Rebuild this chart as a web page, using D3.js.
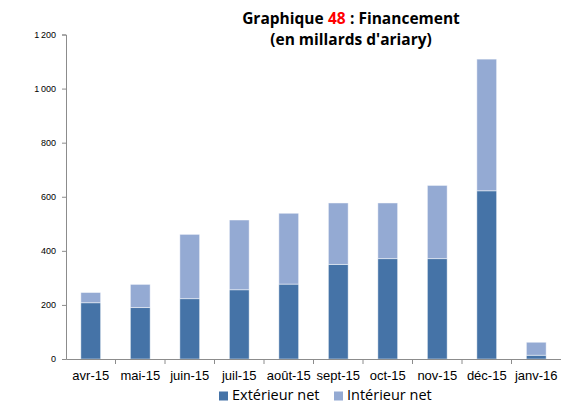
<!DOCTYPE html>
<html>
<head>
<meta charset="utf-8">
<script src="https://cdn.jsdelivr.net/npm/d3@7"></script>
<style>
  html, body { margin: 0; padding: 0; background: #fff; }
  svg { display: block; font-family: "Open Sans", Lato, sans-serif; }
</style>
</head>
<body>
<svg id="chart" width="561" height="404"></svg>
<script>
// Financement mensuel, en milliards d'ariary
const months = ["avr-15", "mai-15", "juin-15", "juil-15", "août-15", "sept-15", "oct-15", "nov-15", "déc-15", "janv-16"];
const exterieurNet = [208, 190, 223, 256, 277, 350, 371, 371, 622, 14];
const interieurNet = [38, 86, 238, 258, 262, 227, 206, 271, 487, 48];
const yTicks = [0, 200, 400, 600, 800, 1000, 1200];
const seriesNames = ["Extérieur net", "Intérieur net"];
const seriesColors = ["#4573A7", "#94AAD3"];
const titleParts = [
  { text: "Graphique", color: "#000000" },
  { text: "48", color: "#FF0000" },
  { text: ": Financement", color: "#000000" }
];
const subtitle = "(en millards d'ariary)";

const svg = d3.select("#chart");
const margin = { left: 66, right: 0, top: 34.5, bottom: 45 };
const W = 561;
const titleCenter = 351;

const x = d3.scaleBand().domain(months).range([margin.left, W]).paddingInner(0.6).paddingOuter(0.3);
const y = d3.scaleLinear().domain([0, 1200]).range([359, 34.5]);

const rows = months.map((m, i) => ({ month: m, ext: exterieurNet[i], int: interieurNet[i] }));
const stacked = d3.stack().keys(["ext", "int"])(rows);

// Title: first line built from coloured pieces laid out side by side
const titleG = svg.append("g")
  .attr("font-weight", "bold")
  .attr("font-size", 15.5);
const pieces = titleG.selectAll("text.part").data(titleParts).join("text")
  .attr("class", "part")
  .attr("y", 23.5)
  .attr("fill", d => d.color)
  .text(d => d.text);
const gap = 4.3; // word space between the pieces
const widths = pieces.nodes().map(n => n.getComputedTextLength());
const total = d3.sum(widths) + gap * (widths.length - 1);
let cursor = titleCenter - total / 2;
pieces.attr("x", (d, i) => {
  const px = cursor;
  cursor += widths[i] + gap;
  return px;
});
titleG.append("text")
  .attr("x", titleCenter).attr("y", 45)
  .attr("text-anchor", "middle")
  .attr("fill", "#000")
  .text(subtitle);

// Bars
svg.append("g").selectAll("g")
  .data(stacked)
  .join("g")
  .attr("fill", (d, i) => seriesColors[i])
  .selectAll("rect")
  .data(d => d)
  .join("rect")
  .attr("x", d => x(d.data.month))
  .attr("y", d => y(d[1]))
  .attr("width", x.bandwidth())
  .attr("height", d => y(d[0]) - y(d[1]))
  .attr("stroke", "#ffffff")
  .attr("stroke-opacity", 0.6)
  .attr("stroke-width", 0.8);

// Y axis
const yAxis = d3.axisLeft(y)
  .tickValues(yTicks)
  .tickSize(4)
  .tickPadding(6)
  .tickFormat(d => d3.format(",")(d).replace(/,/g, "\u2009"));
const gy = svg.append("g").attr("transform", `translate(${margin.left},0)`).call(yAxis);
gy.select(".domain").attr("stroke", "#8c8c8c");
gy.selectAll(".tick line").attr("stroke", "#8c8c8c");
gy.selectAll(".tick text").attr("font-size", 9).attr("fill", "#000");

// X axis
const xAxis = d3.axisBottom(x).tickSize(0).tickPadding(12);
const gx = svg.append("g").attr("transform", `translate(0,${y(0)})`).call(xAxis);
gx.select(".domain").attr("stroke", "#8c8c8c");
gx.selectAll(".tick text").attr("font-size", 13).attr("fill", "#000");
// separators between categories
const step = x.step();
gx.append("g").selectAll("line")
  .data(months.slice(1))
  .join("line")
  .attr("x1", d => x(d) - x.paddingInner() * step / 2)
  .attr("x2", d => x(d) - x.paddingInner() * step / 2)
  .attr("y1", 0).attr("y2", 5)
  .attr("stroke", "#8c8c8c");

// Legend
const legend = svg.append("g").attr("transform", "translate(219,391.5)");
const items = legend.selectAll("g").data(seriesNames).join("g")
  .attr("transform", (d, i) => `translate(${i * 115},0)`);
items.append("rect").attr("width", 9).attr("height", 9).attr("fill", (d, i) => seriesColors[i]);
items.append("text").attr("x", 13).attr("y", 8.5).attr("font-size", 14.5).attr("fill", "#000").text(d => d);
</script>
</body>
</html>
